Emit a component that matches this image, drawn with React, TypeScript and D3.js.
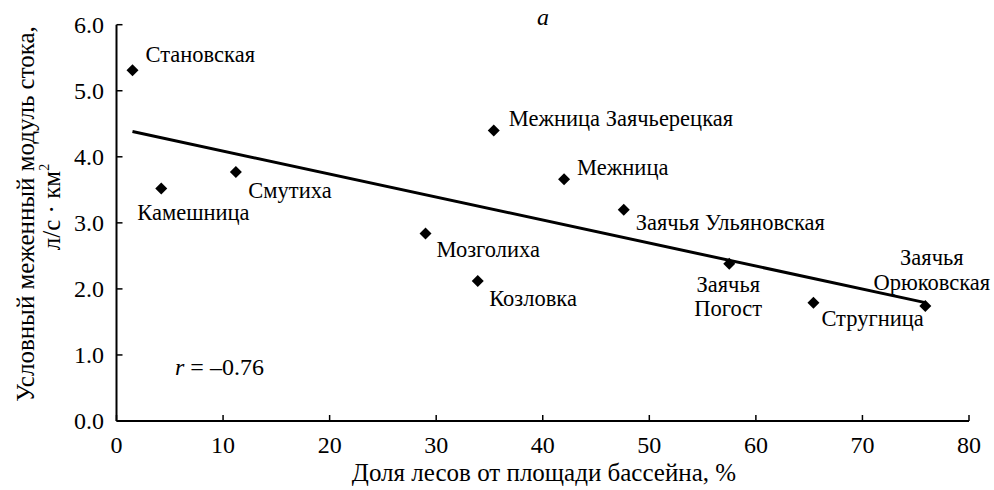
import React from 'react';
import * as d3 from 'd3';

const stations = ['Становская', 'Камешница', 'Смутиха', 'Межница Заячьерецкая', 'Межница', 'Заячья Ульяновская', 'Мозголиха', 'Козловка', 'Заячья\nПогост', 'Стругница', 'Заячья\nОрюковская'];
const forestShare = [1.5, 4.2, 11.2, 35.4, 42.0, 47.6, 29.0, 33.9, 57.5, 65.4, 75.9];
const runoffModule = [5.31, 3.52, 3.77, 4.40, 3.66, 3.20, 2.84, 2.12, 2.38, 1.79, 1.74];
const xTicks = [0, 10, 20, 30, 40, 50, 60, 70, 80];
const yTicks = [0, 1, 2, 3, 4, 5, 6];
const correlationText = '–0.76';

// label layout (offsets from the marker, in px)
const labelLayout = [
  { dx: 13, dy: -8, anchor: 'start' },
  { dx: -24, dy: 31, anchor: 'start' },
  { dx: 12.5, dy: 26, anchor: 'start' },
  { dx: 15, dy: -4, anchor: 'start' },
  { dx: 13, dy: -4, anchor: 'start' },
  { dx: 12, dy: 20, anchor: 'start' },
  { dx: 11, dy: 24, anchor: 'start' },
  { dx: 11.5, dy: 25, anchor: 'start' },
  { dx: -1, dy: 28, anchor: 'middle' },
  { dx: 8, dy: 23, anchor: 'start' },
  { dx: 6.5, dy: -41, anchor: 'middle' },
];

const FONT = "'Liberation Serif'";

export default function App() {
  const W = 994, H = 490;
  const x = d3.scaleLinear().domain([0, 80]).range([116.5, 969]);
  const y = d3.scaleLinear().domain([0, 6]).range([421, 24.7]);

  const n = forestShare.length;
  const mx = d3.mean(forestShare)!;
  const my = d3.mean(runoffModule)!;
  let sxy = 0, sxx = 0;
  for (let i = 0; i < n; i++) {
    sxy += (forestShare[i] - mx) * (runoffModule[i] - my);
    sxx += (forestShare[i] - mx) ** 2;
  }
  const slope = sxy / sxx;
  const icpt = my - slope * mx;
  const [xmin, xmax] = d3.extent(forestShare) as [number, number];
  const line = d3.line<number>().x(d => x(d)).y(d => y(icpt + slope * d));

  const diamond = d3.symbol().type(d3.symbolSquare).size(72)();
  const ts = { fontFamily: FONT };

  return (
    <svg width={W} height={H} style={{ position: 'absolute', left: 0, top: 0, background: '#fff' }}>
      <rect width={W} height={H} fill="#fff" />
      <line x1={x(0)} x2={x(80)} y1={y(0)} y2={y(0)} stroke="#000" strokeWidth={2} />
      <line x1={x(0)} x2={x(0)} y1={y(0)} y2={y(6)} stroke="#000" strokeWidth={2} />
      {xTicks.map(t => (
        <g key={'x' + t}>
          <line x1={x(t)} x2={x(t)} y1={y(0)} y2={y(0) - 6} stroke="#000" strokeWidth={1.5} />
          <text style={ts} x={x(t)} y={453} textAnchor="middle" fontSize={24}>{t}</text>
        </g>
      ))}
      {yTicks.map(t => (
        <g key={'y' + t}>
          <line x1={x(0)} x2={x(0) + 6} y1={y(t)} y2={y(t)} stroke="#000" strokeWidth={1.5} />
          <text style={ts} x={104} y={y(t) + 8} textAnchor="end" fontSize={24}>{t.toFixed(1)}</text>
        </g>
      ))}
      <path d={line([xmin, xmax])!} stroke="#000" strokeWidth={3} fill="none" />
      {forestShare.map((fx, i) => (
        <path key={'p' + i} d={diamond!} transform={`translate(${x(fx)},${y(runoffModule[i])}) rotate(45)`} fill="#000" />
      ))}
      {stations.map((s, i) => {
        const lay = labelLayout[i];
        const px = x(forestShare[i]) + lay.dx;
        const py = y(runoffModule[i]) + lay.dy;
        const parts = s.split('\n');
        return (
          <text style={ts} key={'l' + i} x={px} y={py} textAnchor={lay.anchor} fontSize={22.5}>
            {parts.map((p, j) => (
              <tspan key={j} x={px} dy={j === 0 ? 0 : 24.5}>{p}</tspan>
            ))}
          </text>
        );
      })}
      <text style={ts} x={544} y={481} textAnchor="middle" fontSize={25}>Доля лесов от площади бассейна, %</text>
      <text style={ts} x={543} y={25} textAnchor="middle" fontSize={24} fontStyle="italic">a</text>
      <g transform="translate(34,214) rotate(-90)">
        <text style={ts} x={0} y={0} textAnchor="middle" fontSize={25}>Условный меженный модуль стока,</text>
      </g>
      <g transform="translate(60,207) rotate(-90)">
        <text style={ts} x={0} y={0} textAnchor="middle" fontSize={25}>л/с · км<tspan dy={-11} fontSize={14}>2</tspan></text>
      </g>
      <text style={ts} x={175} y={375} fontSize={24}>
        <tspan fontStyle="italic">r</tspan> = {correlationText}
      </text>
    </svg>
  );
}
